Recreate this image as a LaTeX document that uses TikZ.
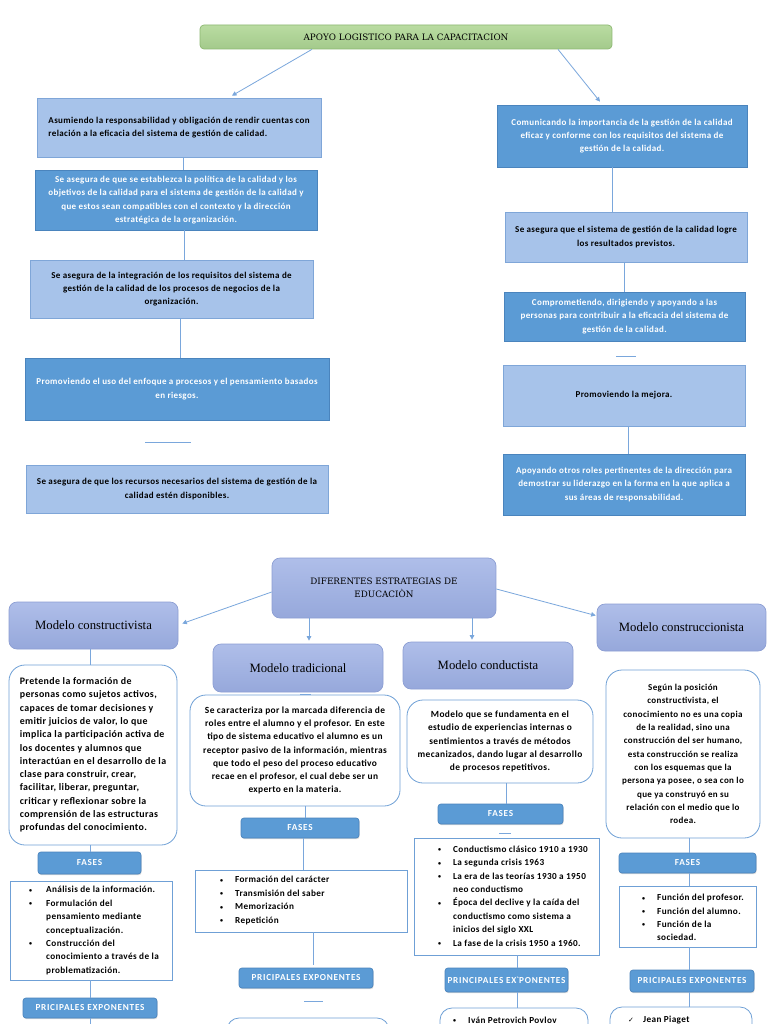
\documentclass[tikz,border=0pt]{standalone}
\usepackage{fontspec}
\setmainfont{Carlito}
\newfontfamily\bodyf[LetterSpace=4]{Carlito}
\newfontfamily\fasef[LetterSpace=8]{Carlito}
\newfontfamily\serifx{Liberation Serif}
\newfontfamily\slab{DejaVu Serif}
\newfontfamily\dejavu{DejaVu Sans}
\usetikzlibrary{arrows.meta,shadows}
\definecolor{lfill}{HTML}{A7C3EA}
\definecolor{lbord}{HTML}{7FA6D8}
\definecolor{dfill}{HTML}{5B9BD5}
\definecolor{dbord}{HTML}{4A84BD}
\definecolor{mtop}{HTML}{AFBEE9}
\definecolor{mbot}{HTML}{96A8DB}
\definecolor{mbord}{HTML}{8C9ED3}
\definecolor{gtop}{HTML}{BADCA2}
\definecolor{gbot}{HTML}{A3CA8B}
\definecolor{gbord}{HTML}{8DB872}
\definecolor{cbord}{HTML}{6FA0D6}
\definecolor{cline}{HTML}{7AA7DC}
\newcommand{\mkbox}[7]{%
  \pgfmathsetmacro{\bxw}{#5-#3}%
  \pgfmathsetmacro{\bxh}{#6-#4}%
  \pgfmathsetmacro{\bxx}{(#3+#5)/2}%
  \pgfmathsetmacro{\bxy}{-(#4+#6)/2}%
  \node[#2, minimum width=\bxw pt, minimum height=\bxh pt] (#1) at (\bxx,\bxy) {#7};}
\newcommand{\bul}[1][15pt]{\makebox[#1][l]{\raisebox{0.5pt}{\fontsize{6}{6}\selectfont•}}}
\newcommand{\ind}[1][15pt]{\hspace*{#1}}
\begin{document}
\begin{tikzpicture}[x=1pt,y=1pt,
  body/.style={font=\bodyf\fontsize{9}{13.3}\selectfont\bfseries},
  bodyl/.style={font=\bodyf\fontsize{9.4}{13.3}\selectfont\bfseries},
  base/.style={inner sep=0pt, line width=0.7pt, align=center, body},
  lbox/.style={base, draw=lbord, fill=lfill, text=black},
  dbox/.style={base, draw=dbord, fill=dfill, text=white},
  title/.style={base, rounded corners=4pt, draw=gbord, top color=gtop, bottom color=gbot, font=\slab\fontsize{8.8}{11}\selectfont},
  mbox/.style={base, rounded corners=8pt, draw=mbord, top color=mtop, bottom color=mbot, font=\serifx\fontsize{12.7}{14}\selectfont},
  desc/.style={base, rounded corners=16pt, draw=cbord, fill=white, line width=0.8pt, bodyl},
  fase/.style={base, rounded corners=3pt, draw=dbord, fill=dfill, text=white, font=\fasef\fontsize{9.2}{10}\selectfont\bfseries, drop shadow={opacity=0.3, shadow xshift=0.6pt, shadow yshift=-1.2pt}},
  lst/.style={base, draw=cbord, fill=white, line width=0.8pt},
  listtxt/.style={inner sep=0pt, align=left, font=\bodyf\fontsize{9.2}{13.4}\selectfont\bfseries},
  conn/.style={draw=cline, line width=0.8pt},
  arr/.style={conn, -{Triangle[width=4.5pt,length=4.5pt]}}
]
\useasboundingbox (0,0) rectangle (768,-1024);
\clip (0,0) rectangle (768,-1024);
\fill[white] (0,0) rectangle (768,-1024);

% ---------- upper part ----------
\mkbox{T}{title}{200}{25}{612}{49}{APOYO LOGISTICO PARA LA CAPACITACION}

\mkbox{L1}{lbox,align=left}{37}{98}{321}{157}{Asumiendo la responsabilidad y obligación de rendir cuentas con\\relación a la eficacia del sistema de gestión de calidad.}
\mkbox{L2}{dbox}{35}{170}{317}{230}{Se asegura de que se establezca la política de la calidad y los\\objetivos de la calidad para el sistema de gestión de la calidad y\\que estos sean compatibles con el contexto y la dirección\\estratégica de la organización.}
\mkbox{L3}{lbox}{30}{260}{313}{318}{Se asegura de la integración de los requisitos del sistema de\\gestión de la calidad de los procesos de negocios de la\\organización.}
\mkbox{L4}{dbox}{25}{358}{329}{420}{Promoviendo el uso del enfoque a procesos y el pensamiento basados\\en riesgos.}
\mkbox{L5}{lbox}{26}{465}{328}{513}{Se asegura de que los recursos necesarios del sistema de gestión de la\\calidad estén disponibles.}

\mkbox{R1}{dbox}{497}{105}{747}{167}{Comunicando la importancia de la gestión de la calidad\\eficaz y conforme con los requisitos del sistema de\\gestión de la calidad.}
\mkbox{R2}{lbox}{505}{212}{747}{262}{Se asegura que el sistema de gestión de la calidad logre\\los resultados previstos.}
\mkbox{R3}{dbox}{504}{292}{745}{341}{Comprometiendo, dirigiendo y apoyando a las\\personas para contribuir a la eficacia del sistema de\\gestión de la calidad.}
\mkbox{R4}{lbox}{503}{365}{745}{426}{Promoviendo la mejora.}
\mkbox{R5}{dbox}{503}{454}{745}{515}{Apoyando otros roles pertinentes de la dirección para\\demostrar su liderazgo en la forma en la que aplica a\\sus áreas de responsabilidad.}

\draw[arr] ([xshift=-94pt]T.south) -- ([xshift=53pt,yshift=2pt]L1.north);
\draw[arr] ([xshift=152pt]T.south) -- ([xshift=-22pt,yshift=3pt]R1.north);

\coordinate (xa) at (183,0);
\coordinate (xb) at (184,0);
\coordinate (xc) at (180,0);
\draw[conn] (L1.south -| xa) -- (L2.north -| xa);
\draw[conn] (L2.south -| xb) -- (L3.north -| xb);
\draw[conn] (L3.south -| xc) -- (L4.north -| xc);
\coordinate (s1a) at (145,-442);
\coordinate (s1b) at (191,-442);
\draw[conn] (s1a) -- (s1b);

\coordinate (xr1) at (612,0);
\coordinate (xr2) at (624,0);
\coordinate (xr4) at (628,0);
\draw[conn] (R1.south -| xr1) -- (R2.north -| xr1);
\draw[conn] (R2.south -| xr2) -- (R3.north -| xr2);
\draw[conn] (R4.south -| xr4) -- (R5.north -| xr4);
\coordinate (s2a) at (616,-356);
\coordinate (s2b) at (636,-356);
\draw[conn] (s2a) -- (s2b);

% ---------- lower part ----------
\mkbox{D}{mbox,font=\slab\fontsize{8.8}{13}\selectfont}{272}{558}{496}{618}{DIFERENTES ESTRATEGIAS DE\\EDUCACIÒN}
\mkbox{MC}{mbox}{9}{602}{178}{649}{Modelo constructivista}
\mkbox{MT}{mbox}{213}{644}{383}{692}{Modelo tradicional}
\mkbox{MK}{mbox}{403}{642}{573}{689}{Modelo conductista}
\mkbox{MS}{mbox}{597}{604}{766}{651}{Modelo construccionista}

\draw[arr] ([yshift=-4pt]D.west) -- ([xshift=4pt,yshift=2pt]MC.east);
\draw[arr] ([xshift=-75pt]D.south) -- ([xshift=-75pt,yshift=3pt]D.south |- MT.north);
\draw[arr] ([xshift=88pt]D.south) -- ([xshift=88pt,yshift=2pt]D.south |- MK.north);
\draw[arr] ([yshift=-1pt]D.east) -- ([xshift=-1pt,yshift=12pt]MS.west);

\mkbox{DC}{desc,align=left,font=\bodyf\fontsize{9.9}{13.3}\selectfont\bfseries}{9}{665}{177}{845}{Pretende la formación de\\personas como sujetos activos,\\capaces de tomar decisiones y\\emitir juicios de valor, lo que\\implica la participación activa de\\los docentes y alumnos que\\interactúan en el desarrollo de la\\clase para construir, crear,\\facilitar, liberar, preguntar,\\criticar y reflexionar sobre la\\comprensión de las estructuras\\profundas del conocimiento.}
\mkbox{DT}{desc}{190}{695}{400}{806}{Se caracteriza por la marcada diferencia de\\roles entre el alumno y el profesor. En este\\tipo de sistema educativo el alumno es un\\receptor pasivo de la información, mientras\\que todo el peso del proceso educativo\\recae en el profesor, el cual debe ser un\\experto en la materia.}
\mkbox{DK}{desc}{407}{700}{593}{783}{Modelo que se fundamenta en el\\estudio de experiencias internas o\\sentimientos a través de métodos\\mecanizados, dando lugar al desarrollo\\de procesos repetitivos.}
\mkbox{DS}{desc,body}{606}{670}{760}{838}{Según la posición\\constructivista, el\\conocimiento no es una copia\\de la realidad, sino una\\construcción del ser humano,\\esta construcción se realiza\\con los esquemas que la\\persona ya posee, o sea con lo\\que ya construyó en su\\relación con el medio que lo\\rodea.}

\mkbox{FC}{fase}{38}{852}{141}{874}{FASES}
\mkbox{FT}{fase}{241}{818}{359}{838}{FASES}
\mkbox{FK}{fase}{438}{804}{563}{824}{FASES}
\mkbox{FS}{fase}{619}{853}{756}{873}{FASES}

\mkbox{LC}{lst}{10}{881}{172}{980}{}
\node[listtxt, anchor=west] (LCt) at (29,-930.5) {\bul[17pt]Análisis de la información.\\\bul[17pt]Formulación del\\\ind[17pt]pensamiento mediante\\\ind[17pt]conceptualización.\\\bul[17pt]Construcción del\\\ind[17pt]conocimiento a través de la\\\ind[17pt]problematización.};
\mkbox{LT}{lst}{195}{870}{407}{932}{}
\node[listtxt, anchor=west] (LTt) at (220,-900.5) {\bul Formación del carácter\\\bul Transmisión del saber\\\bul Memorización\\\bul Repetición};
\mkbox{LK}{lst}{414}{838}{599}{955}{}
\node[listtxt, anchor=west] (LKt) at (438,-896) {\bul Conductismo clásico 1910 a 1930\\\bul La segunda crisis 1963\\\bul La era de las teorías 1930 a 1950\\\ind neo conductismo\\\bul Época del declive y la caída del\\\ind conductismo como sistema a\\\ind inicios del siglo XXL\\\bul La fase de la crisis 1950 a 1960.};
\mkbox{LS}{lst}{619}{886}{756}{947}{}
\node[listtxt, anchor=west] (LSt) at (642,-917.5) {\bul Función del profesor.\\\bul Función del alumno.\\\bul Función de la\\\ind sociedad.};

\mkbox{PC}{fase}{23}{998}{157}{1018}{PRICIPALES EXPONENTES}
\mkbox{PT}{fase}{239}{968}{373}{988}{PRICIPALES EXPONENTES}
\mkbox{PK}{fase}{445}{968}{568}{992}{PRINCIPALES EX\textasciigrave PONENTES}
\mkbox{PS}{fase}{630}{970}{754}{992}{PRICIPALES EXPONENTES}

\mkbox{BT}{desc,rounded corners=12pt}{227}{1018}{389}{1080}{}
\mkbox{BK}{desc,rounded corners=12pt}{440}{1008}{588}{1070}{}
\mkbox{BS}{desc,rounded corners=12pt}{610}{1007}{752}{1070}{}
\node[listtxt, anchor=west] (BKt) at (453,-1020) {\bul Iván Petrovich Povlov};
\node[listtxt, anchor=west] (BSt) at (628,-1020) {\makebox[15pt][l]{\dejavu\fontsize{7}{8}\selectfont ✓}Jean Piaget};

% connectors lower
\coordinate (x1) at (90,0);
\coordinate (xend) at (90,-1024);
\draw[conn] (MC.south -| x1) -- (DC.north -| x1);
\draw[conn] (DC.south -| x1) -- (FC.north -| x1);
\draw[conn] (LC.south -| x1) -- (PC.north -| x1);
\draw[conn] (PC.south -| x1) -- (xend);

\coordinate (t1a) at (300,-694);
\coordinate (t1b) at (311,-694);
\draw[conn] (t1a) -- (t1b);
\coordinate (x2) at (305,0);
\coordinate (x3) at (303,0);
\coordinate (x4) at (313,0);
\draw[conn] (DT.south -| x2) -- (FT.north -| x2);
\draw[conn] (FT.south -| x3) -- (LT.north -| x3);
\draw[conn] (LT.south -| x4) -- ([yshift=3pt]PT.north -| x4);
\coordinate (t2a) at (304,-1001);
\coordinate (t2b) at (323,-1001);
\draw[conn] (t2a) -- (t2b);

\coordinate (x5) at (506,0);
\coordinate (x6) at (517,0);
\draw[conn] (DK.south -| x5) -- (FK.north -| x5);
\coordinate (k1a) at (499,-833);
\coordinate (k1b) at (511,-833);
\draw[conn] (k1a) -- (k1b);
\draw[conn] (LK.south -| x6) -- (PK.north -| x6);
\draw[conn] (PK.south -| x6) -- (BK.north -| x6);

\coordinate (x7) at (689,0);
\draw[conn] (DS.south -| x7) -- (FS.north -| x7);
\draw[conn] (FS.south -| x7) -- (LS.north -| x7);
\draw[conn] (LS.south -| x7) -- (PS.north -| x7);
\draw[conn] (PS.south -| x7) -- (BS.north -| x7);
\end{tikzpicture}
\end{document}
